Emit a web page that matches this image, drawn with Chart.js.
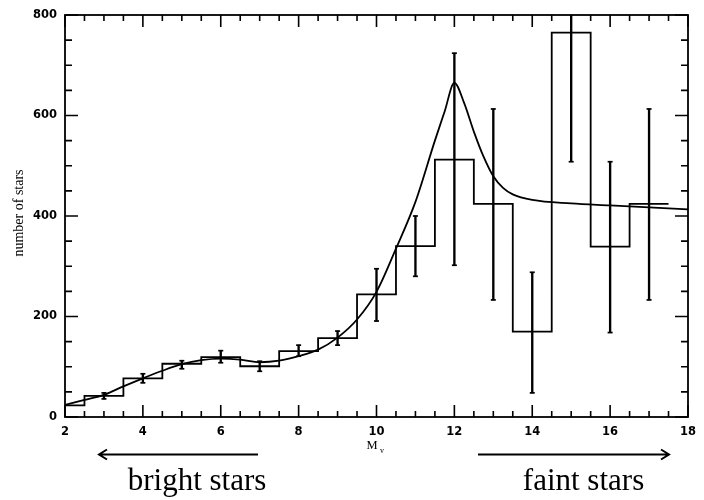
<!DOCTYPE html>
<html>
<head>
<meta charset="utf-8">
<script src="https://cdn.jsdelivr.net/npm/chart.js@4/dist/chart.umd.min.js"></script>
<style>
  html, body { margin: 0; padding: 0; background: #fff; }
  #wrap { width: 704px; height: 500px; position: relative; }
</style>
</head>
<body>
<div id="wrap"><canvas id="c"></canvas></div>
<script>
// ---- data ----
// histogram bin left edges (last value closes the final bin)
const binEdges = [2, 2.5, 3.5, 4.5, 5.5, 6.5, 7.5, 8.5, 9.5, 10.5, 11.5, 12.5, 13.5, 14.5, 15.5, 16.5, 17.5];
const binCounts = [23, 42, 77, 106, 119, 101, 131, 157, 244, 340, 512, 424, 170, 765, 339, 424];
// error bars at bin centres
const errX = [3, 4, 5, 6, 7, 8, 9, 10, 11, 12, 13, 14, 15, 16, 17];
const errVal = [42, 77, 104, 120, 101, 132, 157, 243, 340, 513, 423, 168, 765, 338, 423];
const errSize = [6, 9, 8, 12, 10, 11, 14, 52, 60, 211, 190, 120, 257, 170, 190];
// smooth fitted curve
const curveX = [2, 2.5, 3, 3.5, 4, 4.5, 5, 5.5, 6, 6.5, 7, 7.5, 8, 8.5, 9, 9.5, 10, 10.5, 11, 11.5, 11.75, 12, 12.25, 12.5, 12.75, 13, 13.25, 13.5, 14, 15, 16, 17, 18];
const curveY = [24, 34, 44, 61, 77, 92, 105, 113, 116, 114, 109, 112, 121, 134, 158, 194, 249, 335, 428, 550, 608, 665, 625, 568, 518, 479, 456, 443, 432, 425, 421, 417, 413];
// axis ticks
const xTicks = [2, 4, 6, 8, 10, 12, 14, 16, 18];
const yTicks = [0, 200, 400, 600, 800];
const xMinorStep = 0.5;
const yMinorStep = 50;

// ---- build library tables ----
const histData = binEdges.map((x, i) => ({ x: x, y: binCounts[Math.min(i, binCounts.length - 1)] }));
const curveData = curveX.map((x, i) => ({ x: x, y: curveY[i] }));
const errBars = errX.map((x, i) => ({ x: x, y: [errVal[i] - errSize[i], errVal[i] + errSize[i]] }));
const errCaps = [];
errX.forEach((x, i) => {
  errCaps.push({ x: x, y: errVal[i] - errSize[i] });
  errCaps.push({ x: x, y: errVal[i] + errSize[i] });
});

const frameAndAnnotations = {
  id: 'frameAndAnnotations',
  afterDatasetsDraw(chart) {
    const ctx = chart.ctx;
    const a = chart.chartArea;
    const xs = chart.scales.x, ys = chart.scales.y;
    ctx.save();
    ctx.strokeStyle = '#000';
    ctx.lineWidth = 1.8;
    ctx.strokeRect(a.left, a.top, a.right - a.left, a.bottom - a.top);
    ctx.lineWidth = 1.6;
    ctx.beginPath();
    // x ticks (bottom & top), inward
    const xmin = xs.min, xmax = xs.max;
    for (let v = xmin; v <= xmax + 1e-9; v += xMinorStep) {
      const px = xs.getPixelForValue(v);
      const major = xTicks.some(t => Math.abs(t - v) < 1e-6);
      const len = major ? 12 : 6;
      ctx.moveTo(px, a.bottom); ctx.lineTo(px, a.bottom - len);
      ctx.moveTo(px, a.top); ctx.lineTo(px, a.top + len);
    }
    // y ticks (left & right), inward
    for (let v = ys.min; v <= ys.max + 1e-9; v += yMinorStep) {
      const py = ys.getPixelForValue(v);
      const major = yTicks.some(t => Math.abs(t - v) < 1e-6);
      const len = major ? 13 : 7;
      ctx.moveTo(a.left, py); ctx.lineTo(a.left + len, py);
      ctx.moveTo(a.right, py); ctx.lineTo(a.right - len, py);
    }
    ctx.stroke();

    // axis titles
    ctx.fillStyle = '#000';
    ctx.textAlign = 'center';
    ctx.textBaseline = 'alphabetic';
    ctx.font = '12.5px "Liberation Serif"';
    ctx.fillText('M', 372, 448.5);
    ctx.font = '8px "Liberation Serif"';
    ctx.fillText('v', 382, 453);
    ctx.save();
    ctx.translate(22.5, 213);
    ctx.rotate(-Math.PI / 2);
    ctx.font = '14px "Liberation Serif"';
    ctx.fillText('number of stars', 0, 0);
    ctx.restore();

    // arrows
    ctx.lineWidth = 2;
    ctx.beginPath();
    ctx.moveTo(258, 454.5); ctx.lineTo(99, 454.5);
    ctx.moveTo(107, 449.5); ctx.lineTo(99, 454.5); ctx.lineTo(107, 459.5);
    ctx.moveTo(478, 454.5); ctx.lineTo(669, 454.5);
    ctx.moveTo(661, 449.5); ctx.lineTo(669, 454.5); ctx.lineTo(661, 459.5);
    ctx.stroke();

    ctx.font = '31px "Liberation Serif"';
    ctx.fillText('bright stars', 197, 490);
    ctx.fillText('faint stars', 583.5, 490);
    ctx.restore();
  }
};

new Chart(document.getElementById('c'), {
  type: 'line',
  data: {
    datasets: [
      {
        type: 'line',
        label: 'histogram',
        data: histData,
        stepped: 'before',
        borderColor: '#000',
        borderWidth: 1.8,
        pointRadius: 0,
        fill: false,
        order: 3
      },
      {
        type: 'line',
        label: 'fit',
        data: curveData,
        cubicInterpolationMode: 'monotone',
        borderColor: '#000',
        borderWidth: 1.8,
        pointRadius: 0,
        fill: false,
        order: 2
      },
      {
        type: 'bar',
        label: 'errors',
        data: errBars,
        backgroundColor: '#000',
        borderWidth: 0,
        barThickness: 1.7,
        grouped: false,
        order: 1
      },
      {
        type: 'scatter',
        label: 'caps',
        data: errCaps,
        pointStyle: 'line',
        pointRadius: 2.5,
        pointBorderWidth: 1.7,
        borderColor: '#000',
        backgroundColor: '#000',
        showLine: false,
        order: 0
      }
    ]
  },
  options: {
    responsive: true,
    maintainAspectRatio: false,
    animation: false,
    events: [],
    layout: { padding: { top: 15, right: 12, bottom: 0, left: 0 } },
    plugins: { legend: { display: false }, tooltip: { enabled: false } },
    scales: {
      x: {
        type: 'linear',
        min: 2, max: 18,
        offset: false,
        grid: { display: false, drawTicks: false },
        border: { display: false },
        ticks: {
          stepSize: 2,
          padding: 8,
          color: '#000',
          font: { family: '"DejaVu Sans"', size: 11.5, weight: 'bold' },
          maxRotation: 0
        },
        afterFit(scale) { scale.height = 83; }
      },
      y: {
        type: 'linear',
        min: 0, max: 800,
        grid: { display: false, drawTicks: false },
        border: { display: false },
        ticks: {
          stepSize: 200,
          padding: 8,
          color: '#000',
          font: { family: '"DejaVu Sans"', size: 11.5, weight: 'bold' }
        },
        afterFit(scale) { scale.width = 65; }
      }
    }
  },
  plugins: [frameAndAnnotations]
});
</script>
</body>
</html>
